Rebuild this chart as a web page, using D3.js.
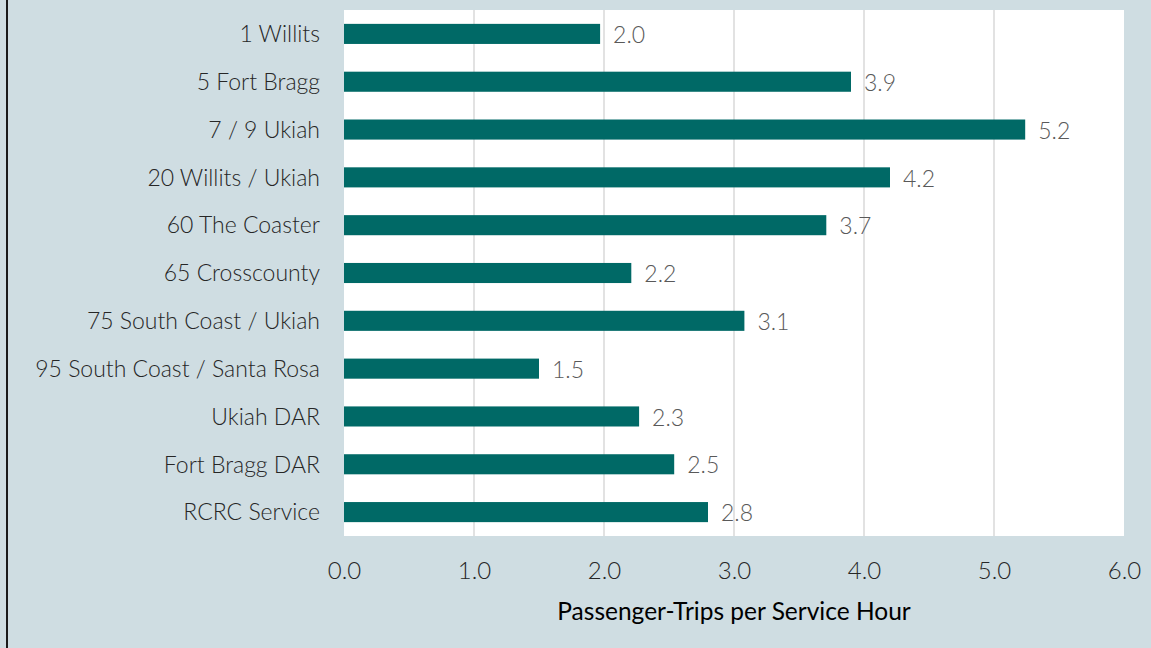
<!DOCTYPE html>
<html>
<head>
<meta charset="utf-8">
<script src="https://cdn.jsdelivr.net/npm/d3@7"></script>
<style>
  html, body { margin: 0; padding: 0; background: #cfdde2; }
  svg { display: block; }
  text { font-family: Lato, "Open Sans", "Liberation Sans", sans-serif; }
</style>
</head>
<body>
<svg id="chart" width="1151" height="648"></svg>
<script>
// Routes and their productivity (passenger-trips per service hour)
const routes = [
  "1 Willits",
  "5 Fort Bragg",
  "7 / 9 Ukiah",
  "20 Willits / Ukiah",
  "60 The Coaster",
  "65 Crosscounty",
  "75 South Coast / Ukiah",
  "95 South Coast / Santa Rosa",
  "Ukiah DAR",
  "Fort Bragg DAR",
  "RCRC Service"
];
const tripsPerHour = [1.97, 3.90, 5.24, 4.20, 3.71, 2.21, 3.08, 1.50, 2.27, 2.54, 2.80];
const xTicks = [0, 1, 2, 3, 4, 5, 6];
const xTitle = "Passenger-Trips per Service Hour";

const svg = d3.select("#chart");
const W = 1151, H = 648;
const plot = { left: 344, right: 1124, top: 10, bottom: 536 };

// page background and left frame edge
svg.append("rect").attr("width", W).attr("height", H).attr("fill", "#cfdde2");
svg.append("line")
  .attr("x1", 7).attr("x2", 7).attr("y1", 0).attr("y2", H)
  .attr("stroke", "#1a1a1a").attr("stroke-width", 2);

const x = d3.scaleLinear().domain([0, 6]).range([plot.left, plot.right]);
const y = d3.scaleBand().domain(routes).range([plot.top, plot.bottom])
  .paddingInner(0.58).paddingOuter(0.29);

// white plot area
svg.append("rect")
  .attr("x", plot.left).attr("y", plot.top)
  .attr("width", plot.right - plot.left).attr("height", plot.bottom - plot.top)
  .attr("fill", "#ffffff");

// vertical gridlines
svg.append("g").selectAll("line")
  .data(xTicks.filter(d => d > 0 && d < 6))
  .join("line")
  .attr("x1", d => x(d)).attr("x2", d => x(d))
  .attr("y1", plot.top).attr("y2", plot.bottom)
  .attr("stroke", "#d9d9d9").attr("stroke-width", 1.5);

// bars
svg.append("g").selectAll("rect")
  .data(routes)
  .join("rect")
  .attr("x", x(0))
  .attr("y", d => y(d))
  .attr("width", (d, i) => x(tripsPerHour[i]) - x(0))
  .attr("height", y.bandwidth())
  .attr("fill", "#006966");

// value labels
const fmt = d3.format(".1f");
svg.append("g").selectAll("text")
  .data(routes)
  .join("text")
  .attr("x", (d, i) => x(tripsPerHour[i]) + 13)
  .attr("y", d => y(d) + y.bandwidth() / 2)
  .attr("dy", "0.4em")
  .attr("font-size", 23)
  .attr("font-weight", 300)
  .attr("fill", "#595959")
  .text((d, i) => fmt(tripsPerHour[i]));

// category axis
const yAxis = svg.append("g")
  .attr("transform", `translate(${plot.left},0)`)
  .call(d3.axisLeft(y).tickSize(0).tickPadding(24));
yAxis.select(".domain").remove();
yAxis.selectAll("text")
  .attr("font-size", 23)
  .attr("font-weight", 300)
  .attr("fill", "#262626")
  .attr("dy", "0.36em")
  .style("font-family", "Lato, 'Open Sans', sans-serif");

// value axis
const xAxis = svg.append("g")
  .attr("transform", `translate(0,${plot.bottom})`)
  .call(d3.axisBottom(x).tickValues(xTicks).tickFormat(fmt).tickSize(0).tickPadding(26));
xAxis.select(".domain").remove();
xAxis.selectAll("text")
  .attr("font-size", 24)
  .attr("font-weight", 300)
  .attr("fill", "#262626")
  .style("font-family", "Lato, 'Open Sans', sans-serif");

// axis title
svg.append("text")
  .attr("x", (plot.left + plot.right) / 2)
  .attr("y", 620)
  .attr("text-anchor", "middle")
  .attr("font-size", 24.5)
  .attr("fill", "#000000")
  .text(xTitle);
</script>
</body>
</html>
